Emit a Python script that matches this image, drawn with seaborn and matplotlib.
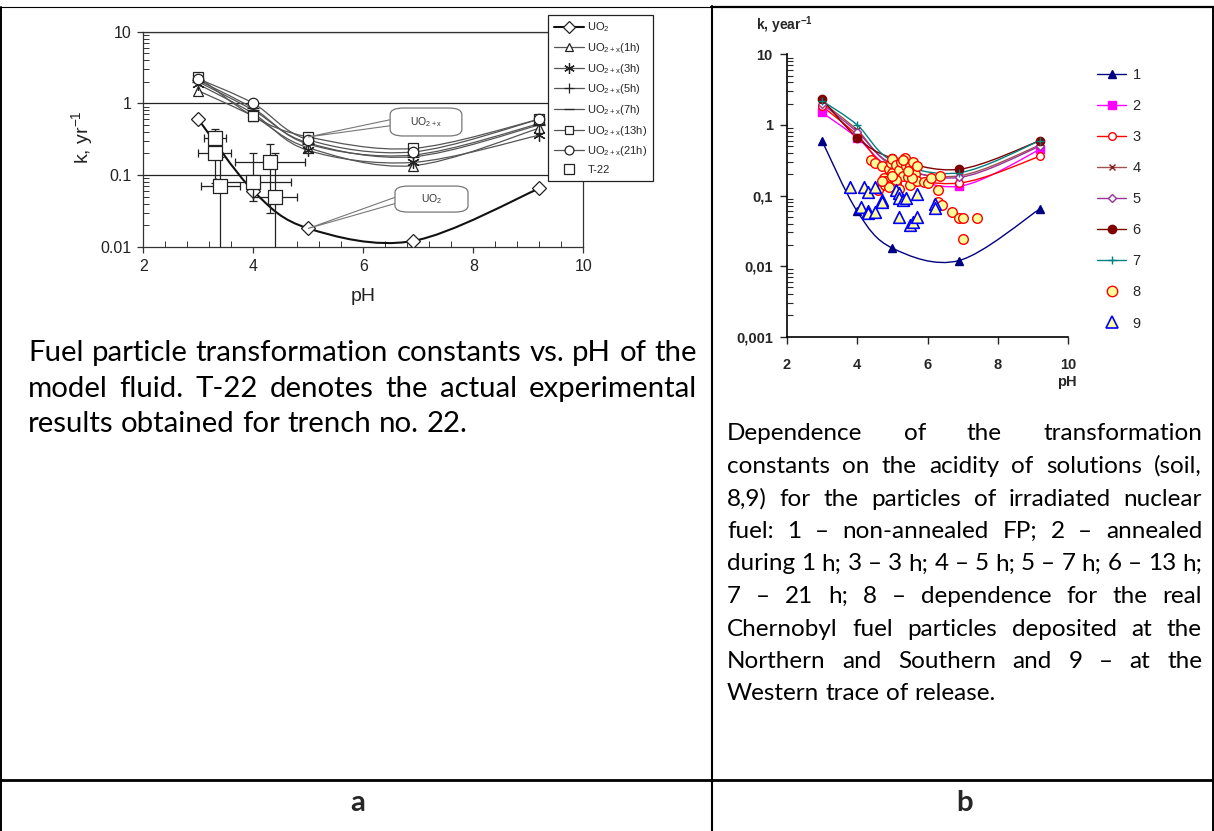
import warnings
warnings.filterwarnings("ignore")
import numpy as np
import pandas as pd
import matplotlib
matplotlib.use("Agg")
import matplotlib.pyplot as plt
import seaborn as sns
from matplotlib.path import Path
from matplotlib.patches import PathPatch, FancyBboxPatch
from matplotlib.lines import Line2D
from matplotlib.ticker import LogLocator, MultipleLocator, NullFormatter, FixedLocator

# ------------------------------------------------------------------ data
ph_fp = [3.0, 4.0, 5.0, 6.9, 9.2]
k_uo2 = [0.60, 0.060, 0.018, 0.012, 0.065]
k_1h = [1.50, 0.66, 0.24, 0.135, 0.45]
k_3h = [1.85, 0.72, 0.22, 0.150, 0.36]
k_5h = [2.10, 0.85, 0.27, 0.190, 0.52]
k_7h = [2.00, 0.80, 0.28, 0.180, 0.50]
k_13h = [2.35, 0.66, 0.34, 0.235, 0.60]
k_21h = [2.20, 1.00, 0.31, 0.210, 0.60]

# T-22 (trench no. 22) experimental points, panel a
t22_ph = [3.3, 3.3, 3.4, 4.0, 4.3, 4.4]
t22_k = [0.33, 0.20, 0.07, 0.08, 0.15, 0.05]
t22_ph_err = [0.2, 0.3, 0.35, 0.68, 0.64, 0.4]
t22_k_low = [0.20, 0.077, 0.001, 0.043, 0.030, 0.001]
t22_k_high = [0.44, 0.32, 0.18, 0.20, 0.27, 0.20]

# series 8: Northern and Southern trace (panel b)
ph_8 = [4.4, 4.5, 4.7, 4.6, 4.75, 4.8, 4.8, 4.9, 4.95, 5.0, 5.0, 5.1, 5.1, 5.2, 5.25,
        5.3, 5.35, 5.4, 5.45, 5.5, 5.5, 5.6, 5.65, 5.7, 5.7, 5.9, 6.0, 6.1, 6.35, 6.3,
        6.3, 6.4, 6.7, 6.9, 7.0, 7.4, 7.0, 5.2, 4.9, 5.1, 4.7, 5.55, 5.3, 5.0, 5.45]
k_8 = [0.32, 0.29, 0.26, 0.12, 0.175, 0.16, 0.14, 0.24, 0.29, 0.33, 0.21, 0.27, 0.15, 0.23, 0.30,
       0.19, 0.34, 0.26, 0.18, 0.26, 0.14, 0.30, 0.20, 0.26, 0.16, 0.155, 0.15, 0.175, 0.19, 0.12,
       0.08, 0.074, 0.059, 0.048, 0.048, 0.048, 0.024, 0.125, 0.13, 0.165, 0.16, 0.175, 0.32, 0.19, 0.22]
# series 9: Western trace (panel b)
ph_9 = [3.8, 4.2, 4.3, 4.5, 4.1, 4.3, 4.3, 4.5, 4.7, 4.7, 5.1, 5.2, 5.2, 5.3, 5.4,
        5.2, 5.5, 5.6, 5.7, 5.7, 6.2, 6.2]
k_9 = [0.133, 0.133, 0.113, 0.133, 0.068, 0.060, 0.056, 0.059, 0.086, 0.080, 0.12, 0.11, 0.093,
       0.087, 0.092, 0.050, 0.038, 0.042, 0.050, 0.105, 0.077, 0.066]

a_labels = ["UO$_2$", "UO$_{2+x}$(1h)", "UO$_{2+x}$(3h)", "UO$_{2+x}$(5h)",
            "UO$_{2+x}$(7h)", "UO$_{2+x}$(13h)", "UO$_{2+x}$(21h)", "T-22"]
b_labels = ["1", "2", "3", "4", "5", "6", "7", "8", "9"]
a_yticks = [0.01, 0.1, 1, 10]
a_ytick_labels = ["0.01", "0.1", "1", "10"]
b_yticks = [0.001, 0.01, 0.1, 1, 10]
b_ytick_labels = ["0,001", "0,01", "0,1", "1", "10"]
xticks = [2, 4, 6, 8, 10]

caption_a = ["Fuel particle transformation constants vs. pH of the",
             "model fluid. T-22 denotes the actual experimental",
             "results obtained for trench no. 22."]
caption_b = ["Dependence of the transformation",
             "constants on the acidity of solutions (soil,",
             "8,9) for the particles of irradiated nuclear",
             "fuel: 1 \u2013 non-annealed FP; 2 \u2013 annealed",
             "during 1 h; 3 \u2013 3 h; 4 \u2013 5 h; 5 \u2013 7 h; 6 \u2013 13 h;",
             "7 \u2013 21 h; 8 \u2013 dependence for the real",
             "Chernobyl fuel particles deposited at the",
             "Northern and Southern and 9 \u2013 at the",
             "Western trace of release."]

# ------------------------------------------------------------------ setup
sns.set_style("white")
plt.rcParams["font.family"] = ["Liberation Sans", "DejaVu Sans"]
plt.rcParams["mathtext.default"] = "regular"

W, H = 1214, 831
fig = plt.figure(figsize=(W / 100, H / 100), dpi=100)
fig.patch.set_facecolor("white")


def fx(px):
    return px / W


def fy(py):
    return 1 - py / H


def smooth_path(xs, ys):
    """Excel-like smoothed line (cubic Bezier through the points, log-y)."""
    x = np.asarray(xs, float)
    ly = np.log10(np.asarray(ys, float))
    P = np.column_stack([x, ly])
    n = len(P)
    verts = [P[0]]
    codes = [Path.MOVETO]
    for i in range(n - 1):
        p0 = P[i - 1] if i > 0 else P[i]
        p1 = P[i]
        p2 = P[i + 1]
        p3 = P[i + 2] if i + 2 < n else P[i + 1]
        c1 = p1 + (p2 - p0) / 6.0
        c2 = p2 - (p3 - p1) / 6.0
        verts += [c1, c2, p2]
        codes += [Path.CURVE4] * 3
    verts = np.array(verts)
    verts[:, 1] = 10 ** verts[:, 1]
    return Path(verts, codes)


def draw_series(ax, xs, ys, color, lw, marker, ms, mfc, mec, mew, z=3):
    ax.add_patch(PathPatch(smooth_path(xs, ys), fill=False, edgecolor=color,
                           lw=lw, zorder=2))
    sns.lineplot(x=xs, y=ys, ax=ax, color=mec, marker=marker, markersize=ms,
                 mfc=mfc, mec=mec, mew=mew, linestyle="none", errorbar=None,
                 legend=False, zorder=z)


asterisk = (6, 2, 0)

# ================================================================== panel a
axa = fig.add_axes([fx(143.3), fy(246.7), 440 / W, 215 / H])
axa.set_yscale("log")
axa.set_xlim(2, 10)
axa.set_ylim(0.01, 10)
for y in [0.1, 1, 10]:
    axa.axhline(y, color="#222222", lw=0.9, zorder=1)

gray = "#555555"
a_series = [
    (k_uo2, "#111111", 1.5, "D", 7.0),
    (k_1h, gray, 0.9, "^", 7.5),
    (k_3h, gray, 0.9, asterisk, 9.0),
    (k_5h, gray, 0.9, "+", 9.0),
    (k_7h, gray, 0.9, "_", 8.5),
    (k_13h, gray, 0.9, "s", 7.5),
    (k_21h, gray, 0.9, "o", 7.5),
]
for ks, c, lw, m, ms in a_series:
    draw_series(axa, ph_fp, ks, c, lw, m, ms, "white", "#222222", 0.9)

yerr = [np.array(t22_k) - np.array(t22_k_low), np.array(t22_k_high) - np.array(t22_k)]
axa.errorbar(t22_ph, t22_k, xerr=t22_ph_err, yerr=yerr, fmt="none",
             ecolor="#222222", elinewidth=0.9, capsize=3, capthick=0.9, zorder=3)
sns.scatterplot(x=t22_ph, y=t22_k, ax=axa, marker="s", s=95, facecolor="white",
                edgecolor="#222222", linewidth=0.9, zorder=4, legend=False)

# callouts
for (bx0, by0, bx1, by1), txt, tip in [
        ((0.561, 0.515, 0.724, 0.645), "UO$_{2+x}$", (ph_fp[2], k_13h[2])),
        ((0.572, 0.161, 0.738, 0.282), "UO$_2$", (ph_fp[2], k_uo2[2]))]:
    axa.annotate("", xy=tip, xycoords="data",
                 xytext=(bx0 + 0.01, (by0 + by1) / 2), textcoords="axes fraction",
                 arrowprops=dict(arrowstyle="wedge,tail_width=0.45,shrink_factor=0.5",
                                 fc="white", ec="#777777", lw=0.8,
                                 shrinkA=0, shrinkB=0), zorder=5)
    axa.add_patch(FancyBboxPatch((bx0, by0), bx1 - bx0, by1 - by0,
                                 boxstyle="round,pad=0,rounding_size=0.03",
                                 transform=axa.transAxes, fc="white", ec="#777777",
                                 lw=0.9, zorder=6))
    axa.text((bx0 + bx1) / 2, (by0 + by1) / 2, txt, transform=axa.transAxes,
             ha="center", va="center", fontsize=7.5, color="#333333", zorder=7)

axa.set_xticks(xticks)
axa.set_xticklabels([str(t) for t in xticks])
axa.xaxis.set_minor_locator(MultipleLocator(0.4))
axa.yaxis.set_major_locator(FixedLocator(a_yticks))
axa.set_yticklabels(a_ytick_labels)
axa.yaxis.set_minor_locator(LogLocator(base=10, subs=np.arange(2, 10)))
axa.yaxis.set_minor_formatter(NullFormatter())
axa.tick_params(which="major", direction="out", length=4, width=0.9,
                color="#333333", labelsize=11.5, labelcolor="#222222", pad=4.5,
                left=True, bottom=True)
axa.tick_params(which="minor", direction="in", length=4, width=0.7,
                color="#333333", left=True, bottom=True)
for sp in axa.spines.values():
    sp.set_color("#333333")
    sp.set_linewidth(0.9)
axa.set_xlabel("pH", fontsize=14, color="#222222")
axa.set_ylabel("k, yr$^{-1}$", fontsize=14, color="#222222")
axa.xaxis.set_label_coords(0.5, -0.19)
axa.yaxis.set_label_coords(-0.11, 0.51)
axa.xaxis.label.set_va("top")

a_handles = []
for ks, c, lw, m, ms in a_series:
    a_handles.append(Line2D([0], [0], color=c, lw=lw, marker=m, markersize=ms * 0.85,
                            mfc="white", mec="#222222", mew=0.9))
a_handles.append(Line2D([0], [0], ls="none", marker="s", markersize=7, mfc="white",
                        mec="#222222", mew=0.9))
leg_a = axa.legend(a_handles, a_labels, loc="upper left",
                   bbox_to_anchor=(fx(548), fy(15)), bbox_transform=fig.transFigure,
                   frameon=True, fancybox=False, framealpha=1, edgecolor="#222222",
                   fontsize=8, handlelength=2.7, handletextpad=0.35, labelspacing=0.6,
                   borderpad=0.5, borderaxespad=0)
leg_a.get_frame().set_linewidth(0.9)
leg_a.set_zorder(10)

# ================================================================== panel b
axb = fig.add_axes([fx(786.7), fy(336.7), 281.6 / W, 282.4 / H])
axb.set_yscale("log")
axb.set_xlim(2, 10)
axb.set_ylim(0.001, 10)

b_series = [
    (k_uo2, "#000080", "^", 5.5, "#000080", "#000080"),
    (k_1h, "#FF00FF", "s", 5.5, "#FF00FF", "#FF00FF"),
    (k_3h, "#FF0000", "o", 5.5, "white", "#FF0000"),
    (k_5h, "#A0504F", "x", 5.0, "#8B1A1A", "#8B1A1A"),
    (k_7h, "#993399", "D", 4.0, "white", "#993399"),
    (k_13h, "#800000", "o", 6.0, "#800000", "#800000"),
    (k_21h, "#008080", "+", 6.0, "#008080", "#008080"),
]
for ks, c, m, ms, mfc, mec in b_series:
    draw_series(axb, ph_fp, ks, c, 1.0, m, ms, mfc, mec, 1.0)

sns.scatterplot(x=ph_8, y=k_8, ax=axb, marker="o", s=48, facecolor="#FFFF99",
                edgecolor="#FF0000", linewidth=1.0, zorder=4, legend=False)
sns.scatterplot(x=ph_9, y=k_9, ax=axb, marker="^", s=70, facecolor="#FFFF99",
                edgecolor="#0000FF", linewidth=1.2, zorder=5, legend=False)

axb.set_xticks(xticks)
axb.set_xticklabels([str(t) for t in xticks])
axb.yaxis.set_major_locator(FixedLocator(b_yticks))
axb.set_yticklabels(b_ytick_labels)
axb.yaxis.set_minor_locator(LogLocator(base=10, subs=np.arange(2, 10)))
axb.yaxis.set_minor_formatter(NullFormatter())
axb.tick_params(axis="y", which="major", direction="out", length=5, width=1,
                labelsize=10.5, pad=5, left=True)
axb.tick_params(axis="y", which="minor", direction="in", length=4, width=0.8, left=True)
axb.tick_params(axis="x", which="major", direction="out", length=5, width=1,
                labelsize=10.5, pad=10, bottom=True)
for lab in axb.get_xticklabels() + axb.get_yticklabels():
    lab.set_fontweight("bold")
for side in ["top", "right"]:
    axb.spines[side].set_visible(False)
for side in ["left", "bottom"]:
    axb.spines[side].set_color("black")
    axb.spines[side].set_linewidth(1.2)
axb.set_xlabel("")
axb.set_ylabel("")
fig.text(fx(1067), fy(382), "pH", ha="center", va="center", fontsize=10.5,
         fontweight="bold")
fig.text(fx(756), fy(30), "k, year$^{-1}$", ha="left", va="baseline", fontsize=10,
         fontweight="bold")

b_handles = []
for ks, c, m, ms, mfc, mec in b_series:
    b_handles.append(Line2D([0], [0], color=c, lw=1.0, marker=m, markersize=ms,
                            mfc=mfc, mec=mec, mew=1.0))
b_handles.append(Line2D([0], [0], ls="none", marker="o", markersize=7.5,
                        mfc="#FFFF99", mec="#FF0000", mew=1.0))
b_handles.append(Line2D([0], [0], ls="none", marker="^", markersize=8.5,
                        mfc="#FFFF99", mec="#0000FF", mew=1.2))
leg_b = axb.legend(b_handles, b_labels, loc="upper left",
                   bbox_to_anchor=(fx(1097), fy(68)), bbox_transform=fig.transFigure,
                   frameon=False, fontsize=10.5, handlelength=2.0, handletextpad=0.45,
                   labelspacing=1.17, borderpad=0, borderaxespad=0)

# ================================================================== table & captions
def hline(y, x0, x1, lw):
    fig.add_artist(Line2D([fx(x0), fx(x1)], [fy(y), fy(y)], color="black", lw=lw,
                          transform=fig.transFigure))


def vline(x, y0, y1, lw):
    fig.add_artist(Line2D([fx(x), fx(x)], [fy(y0), fy(y1)], color="black", lw=lw,
                          transform=fig.transFigure))


hline(7, 0, 711, 0.8)
hline(7, 711, 1214, 1.6)
hline(780, 0, 1214, 2.0)
vline(0.8, 7, 831, 1.4)
vline(1213.2, 7, 831, 1.4)
vline(711.5, 6, 831, 1.5)

renderer = fig.canvas.get_renderer()
cap_family = ["Lato", "DejaVu Sans"]


def text_width(s, size, weight="normal"):
    t = fig.text(0, 0, s, fontsize=size, family=cap_family, fontweight=weight)
    w = t.get_window_extent(renderer).width
    t.remove()
    return w


def justify(lines, x0, x1, baselines, last_width):
    # font size calibrated so that the (unjustified) last line has the reference width
    size = 15.0 * last_width / text_width(lines[-1], 15.0)
    space = text_width("a a", size) - text_width("aa", size)
    for i, ln in enumerate(lines):
        words = ln.split()
        widths = [text_width(w, size) for w in words]
        if i < len(lines) - 1 and len(words) > 1:
            gap = (x1 - x0 - sum(widths)) / (len(words) - 1)
        else:
            gap = space
        x = x0
        for w, wd in zip(words, widths):
            fig.text(fx(x), fy(baselines[i]), w, fontsize=size, family=cap_family,
                     ha="left", va="baseline", color="black")
            x += wd + gap
    return size


size_a = justify(caption_a, 28, 697, [361.0, 396.5, 432.0], 440)
size_b = justify(caption_b, 727, 1202, [440.5 + 32.5 * i for i in range(len(caption_b))], 270)

fig.text(fx(358), fy(803), "a", ha="center", va="center", fontsize=size_a,
         fontweight="bold", family=cap_family)
fig.text(fx(965), fy(803), "b", ha="center", va="center", fontsize=size_a,
         fontweight="bold", family=cap_family)

fig.savefig("out.png", dpi=100, facecolor="white")
